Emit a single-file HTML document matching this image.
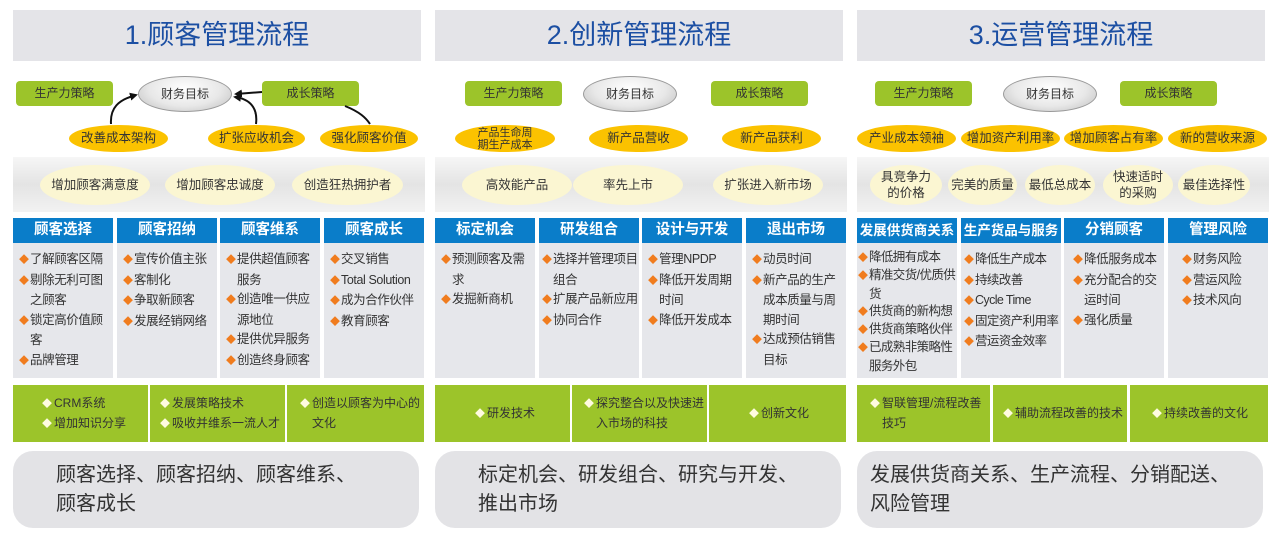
<!DOCTYPE html>
<html><head><meta charset="utf-8">
<style>
*{margin:0;padding:0;box-sizing:border-box}
body{width:1280px;height:542px;background:#fff;position:relative;overflow:hidden;font-family:"Liberation Sans","Noto Sans CJK SC",sans-serif;color:#333}
.col{position:absolute;top:0;width:412px;height:542px}
.a{position:absolute}
.hd{left:0;top:10px;width:408px;height:51px;background:#e4e4e8;color:#1c4fa3;font-size:27px;text-align:center;line-height:51px}
.gb{height:25px;width:97px;background:#9cc42a;border-radius:4px;font-size:12px;line-height:25px;text-align:center;color:#333;top:81px}
.el{top:76px;width:94px;height:36px;border-radius:50%;background:radial-gradient(ellipse at 50% 35%,#fff 0%,#e8e8e8 55%,#bdbdbd 100%);border:1px solid #999;font-size:12px;line-height:34px;text-align:center}
.ob{top:125px;height:27px;border-radius:50%;background:#fbc200;font-size:12.5px;text-align:center;line-height:27px;color:#333}
.band{left:0;top:157px;width:412px;height:55px;background:linear-gradient(#f6f6f6,#e4e4e4 50%,#f2f2f2)}
.ye{top:165px;height:40px;border-radius:50%;background:#fbf6d2;font-size:12.5px;text-align:center;display:flex;align-items:center;justify-content:center;line-height:16px}
.bh{top:218px;width:100px;height:25px;background:#0a7dc9;color:#fff;font-weight:bold;font-size:14.5px;text-align:center;line-height:25px;white-space:nowrap;overflow:hidden}
.bc{top:243px;width:100px;height:135px;background:#e6e7eb;font-size:12.5px;line-height:19.5px;padding:7px 0 0 3px;letter-spacing:-0.4px;overflow:hidden}
.bc p{padding-left:11px;text-indent:-11px}
.d{color:#f07c1e;font-size:10px;display:inline-block;width:11px;text-indent:0;letter-spacing:0}
.gr{top:385px;height:57px;background:#9cc42a;font-size:12px;line-height:19px;display:flex;align-items:center;padding-left:12px}
.gr p{padding-left:12px;text-indent:-12px}
.w{color:#fffbe0;font-size:10px;display:inline-block;width:12px;text-indent:0}
.bt{left:0;top:451px;width:406px;height:77px;background:#e3e3e6;border-radius:20px;font-size:20px;line-height:29px;padding:10px 0 0 43px;color:#333}
</style></head><body>

<!-- Column 1 -->
<div class="col" style="left:13px">
<div class="a hd">1.顾客管理流程</div>
<div class="a gb" style="left:3px">生产力策略</div>
<div class="a el" style="left:125px">财务目标</div>
<div class="a gb" style="left:249px">成长策略</div>
<div class="a ob" style="left:56px;width:99px">改善成本架构</div>
<div class="a ob" style="left:195px;width:97px">扩张应收机会</div>
<div class="a ob" style="left:307px;width:98px">强化顾客价值</div>
<div class="a band"></div>
<div class="a ye" style="left:27px;width:110px">增加顾客满意度</div>
<div class="a ye" style="left:152px;width:110px">增加顾客忠诚度</div>
<div class="a ye" style="left:279px;width:111px">创造狂热拥护者</div>
<div class="a bh" style="left:0">顾客选择</div>
<div class="a bh" style="left:104px">顾客招纳</div>
<div class="a bh" style="left:207px">顾客维系</div>
<div class="a bh" style="left:311px">顾客成长</div>
<div class="a bc" style="left:0;padding-left:6px"><p><span class="d">◆</span>了解顾客区隔</p><p><span class="d">◆</span>剔除无利可图之顾客</p><p><span class="d">◆</span>锁定高价值顾客</p><p><span class="d">◆</span>品牌管理</p></div>
<div class="a bc" style="left:104px;padding-left:6px"><p><span class="d">◆</span>宣传价值主张</p><p><span class="d">◆</span>客制化</p><p><span class="d">◆</span>争取新顾客</p><p><span class="d">◆</span>发展经销网络</p></div>
<div class="a bc" style="left:207px;padding-left:6px"><p><span class="d">◆</span>提供超值顾客服务</p><p><span class="d">◆</span>创造唯一供应源地位</p><p><span class="d">◆</span>提供优异服务</p><p><span class="d">◆</span>创造终身顾客</p></div>
<div class="a bc" style="left:311px;padding-left:6px"><p><span class="d">◆</span>交叉销售</p><p><span class="d">◆</span>Total Solution</p><p><span class="d">◆</span>成为合作伙伴</p><p><span class="d">◆</span>教育顾客</p></div>
<div class="a gr" style="left:0;width:135px;padding-left:29px"><div><p><span class="w">◆</span>CRM系统</p><p><span class="w">◆</span>增加知识分享</p></div></div>
<div class="a gr" style="left:137px;width:135px;padding-left:10px"><div><p><span class="w">◆</span>发展策略技术</p><p><span class="w">◆</span>吸收并维系一流人才</p></div></div>
<div class="a gr" style="left:274px;width:137px;padding-left:13px"><div><p><span class="w">◆</span>创造以顾客为中心的文化</p></div></div>
<div class="a bt">顾客选择、顾客招纳、顾客维系、<br>顾客成长</div>
</div>

<!-- Column 2 -->
<div class="col" style="left:435px">
<div class="a hd">2.创新管理流程</div>
<div class="a gb" style="left:30px">生产力策略</div>
<div class="a el" style="left:148px">财务目标</div>
<div class="a gb" style="left:276px">成长策略</div>
<div class="a ob" style="left:20px;width:100px;font-size:11px;line-height:12px;padding-top:2px">产品生命周<br>期生产成本</div>
<div class="a ob" style="left:154px;width:99px">新产品营收</div>
<div class="a ob" style="left:287px;width:99px">新产品获利</div>
<div class="a band"></div>
<div class="a ye" style="left:27px;width:110px">高效能产品</div>
<div class="a ye" style="left:138px;width:110px">率先上市</div>
<div class="a ye" style="left:278px;width:110px">扩张进入新市场</div>
<div class="a bh" style="left:0">标定机会</div>
<div class="a bh" style="left:104px">研发组合</div>
<div class="a bh" style="left:207px">设计与开发</div>
<div class="a bh" style="left:311px">退出市场</div>
<div class="a bc" style="left:0;padding-left:6px"><p><span class="d">◆</span>预测顾客及需求</p><p><span class="d">◆</span>发掘新商机</p></div>
<div class="a bc" style="left:104px"><p><span class="d">◆</span>选择并管理项目组合</p><p><span class="d">◆</span>扩展产品新应用</p><p><span class="d">◆</span>协同合作</p></div>
<div class="a bc" style="left:207px;padding-left:6px"><p><span class="d">◆</span>管理NPDP</p><p><span class="d">◆</span>降低开发周期时间</p><p><span class="d">◆</span>降低开发成本</p></div>
<div class="a bc" style="left:311px;padding-left:6px"><p><span class="d">◆</span>动员时间</p><p><span class="d">◆</span>新产品的生产成本质量与周期时间</p><p><span class="d">◆</span>达成预估销售目标</p></div>
<div class="a gr" style="left:0;width:135px;padding-left:40px"><div><p><span class="w">◆</span>研发技术</p></div></div>
<div class="a gr" style="left:137px;width:135px;padding-left:12px"><div><p><span class="w">◆</span>探究整合以及快速进入市场的科技</p></div></div>
<div class="a gr" style="left:274px;width:137px;padding-left:40px"><div><p><span class="w">◆</span>创新文化</p></div></div>
<div class="a bt">标定机会、研发组合、研究与开发、<br>推出市场</div>
</div>

<!-- Column 3 -->
<div class="col" style="left:857px">
<div class="a hd">3.运营管理流程</div>
<div class="a gb" style="left:18px">生产力策略</div>
<div class="a el" style="left:146px">财务目标</div>
<div class="a gb" style="left:263px">成长策略</div>
<div class="a ob" style="left:0;width:99px">产业成本领袖</div>
<div class="a ob" style="left:104px;width:99px">增加资产利用率</div>
<div class="a ob" style="left:207px;width:99px">增加顾客占有率</div>
<div class="a ob" style="left:311px;width:99px">新的营收来源</div>
<div class="a band"></div>
<div class="a ye" style="left:13px;width:72px">具竞争力<br>的价格</div>
<div class="a ye" style="left:91px;width:69px">完美的质量</div>
<div class="a ye" style="left:168px;width:70px">最低总成本</div>
<div class="a ye" style="left:246px;width:70px">快速适时<br>的采购</div>
<div class="a ye" style="left:321px;width:72px">最佳选择性</div>
<div class="a bh" style="left:0;font-size:13.5px">发展供货商关系</div>
<div class="a bh" style="left:104px;font-size:13.5px">生产货品与服务</div>
<div class="a bh" style="left:207px">分销顾客</div>
<div class="a bh" style="left:311px">管理风险</div>
<div class="a bc" style="left:0;padding:6px 0 0 1px;letter-spacing:-0.6px;line-height:17.3px"><p><span class="d">◆</span>降低拥有成本</p><p><span class="d">◆</span>精准交货/优质供货</p><p><span class="d">◆</span>供货商的新构想</p><p><span class="d">◆</span>供货商策略伙伴</p><p><span class="d">◆</span>已成熟非策略性服务外包</p></div>
<div class="a bc" style="left:104px;letter-spacing:-0.6px"><p><span class="d">◆</span>降低生产成本</p><p><span class="d">◆</span>持续改善</p><p><span class="d">◆</span>Cycle Time</p><p><span class="d">◆</span>固定资产利用率</p><p><span class="d">◆</span>营运资金效率</p></div>
<div class="a bc" style="left:207px;padding-left:9px"><p><span class="d">◆</span>降低服务成本</p><p><span class="d">◆</span>充分配合的交运时间</p><p><span class="d">◆</span>强化质量</p></div>
<div class="a bc" style="left:311px;padding-left:14px"><p><span class="d">◆</span>财务风险</p><p><span class="d">◆</span>营运风险</p><p><span class="d">◆</span>技术风向</p></div>
<div class="a gr" style="left:0;width:133px;padding-left:13px"><div><p><span class="w">◆</span>智联管理/流程改善技巧</p></div></div>
<div class="a gr" style="left:136px;width:134px;padding-left:10px"><div><p><span class="w">◆</span>辅助流程改善的技术</p></div></div>
<div class="a gr" style="left:273px;width:138px;padding-left:22px"><div><p><span class="w">◆</span>持续改善的文化</p></div></div>
<div class="a bt" style="padding-left:13px">发展供货商关系、生产流程、分销配送、<br>风险管理</div>
</div>

<!-- arrows col1 -->
<svg class="a" style="left:0;top:0" width="430" height="160">
<defs><marker id="ar" markerWidth="8" markerHeight="8" refX="6" refY="4" orient="auto" markerUnits="userSpaceOnUse"><path d="M0,0 L8,4 L0,8 z" fill="#111"/></marker></defs>
<path d="M111,124 C110,108 118,100 136,95" stroke="#111" stroke-width="2" fill="none" marker-end="url(#ar)"/>
<path d="M256,124 C258,108 250,99 235,97" stroke="#111" stroke-width="2" fill="none" marker-end="url(#ar)"/>
<path d="M262,92 L236,94" stroke="#111" stroke-width="2" fill="none" marker-end="url(#ar)"/>
<path d="M345,106 C360,112 366,118 370,124" stroke="#111" stroke-width="2" fill="none"/>
</svg>
</body></html>
